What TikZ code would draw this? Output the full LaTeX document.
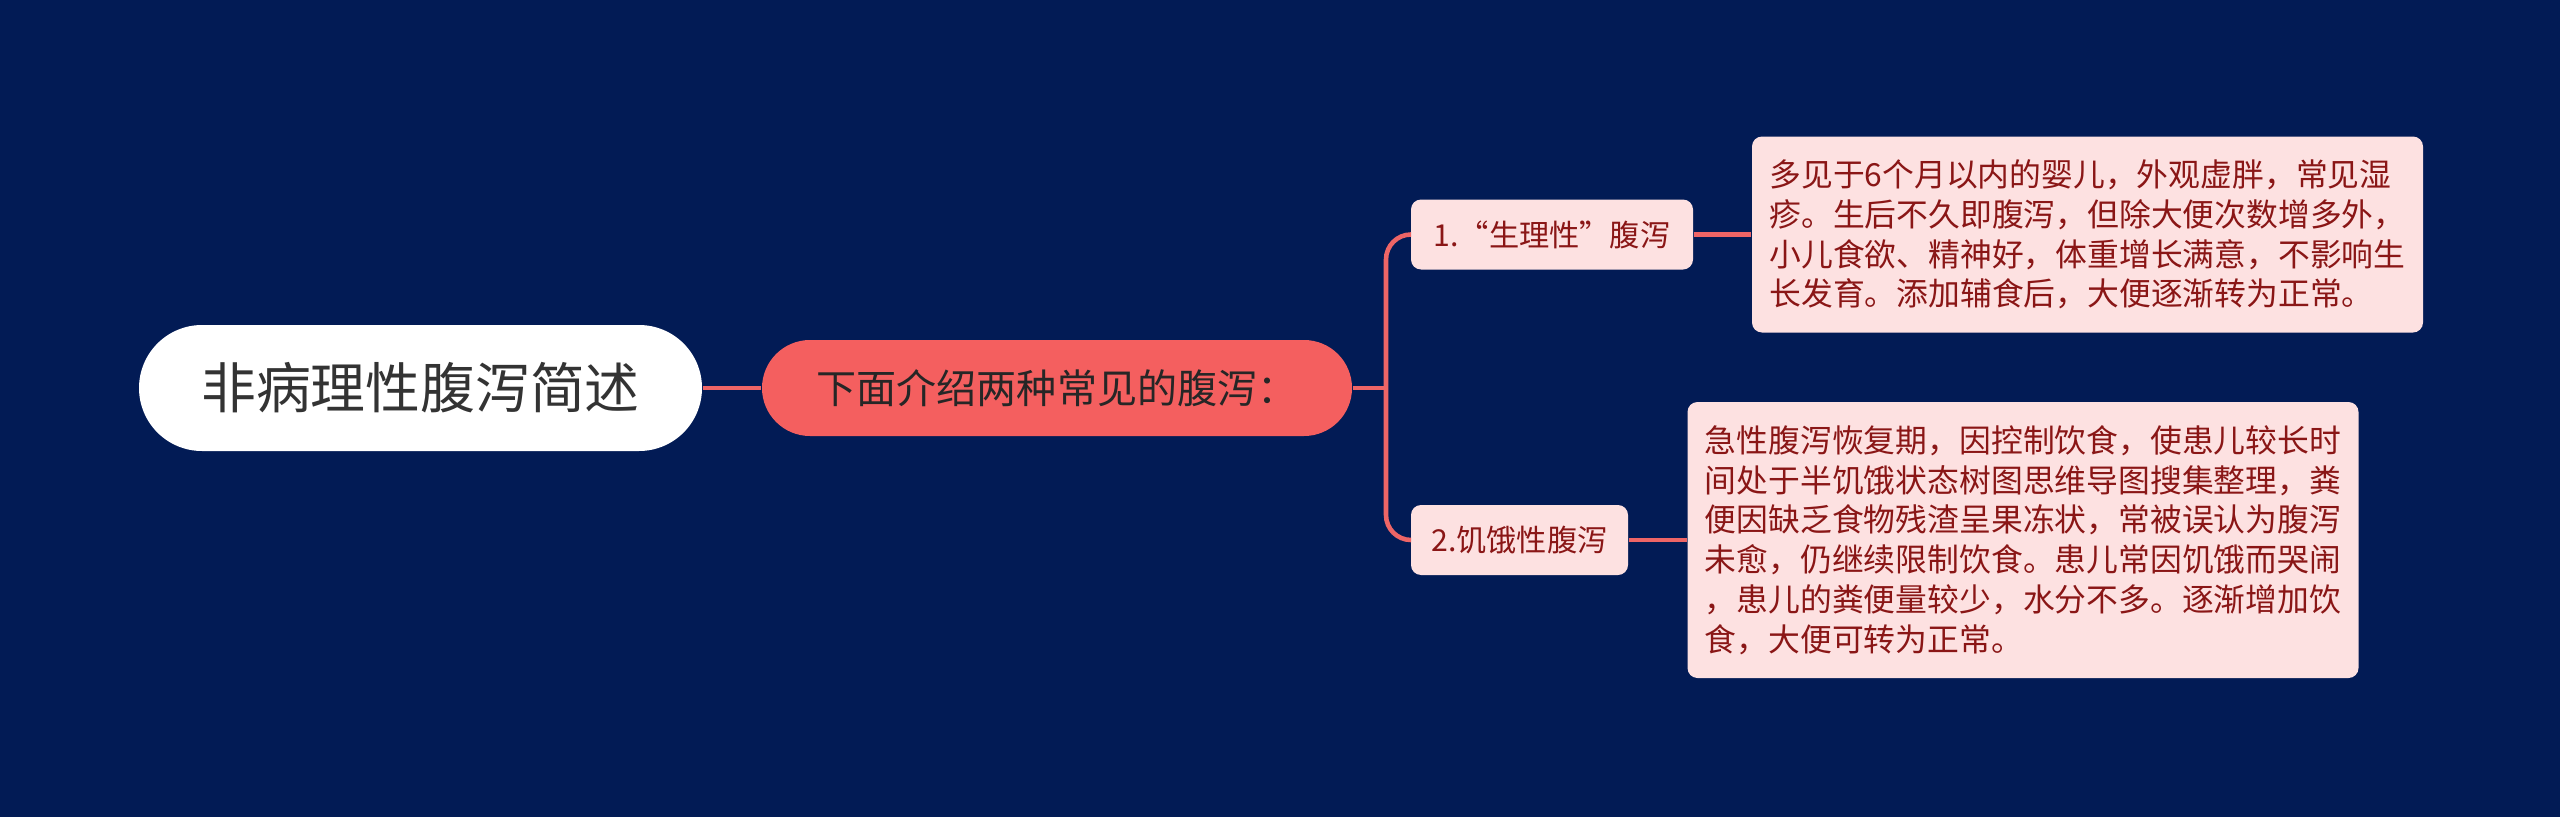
\documentclass[tikz,border=0pt]{standalone}
\usepackage{fontspec}
\setmainfont{Noto Sans CJK SC}
\usepackage{tikz}

\definecolor{navybg}{HTML}{021B55}
\definecolor{linkred}{HTML}{EE6566}
\definecolor{introred}{HTML}{F45F5F}
\definecolor{notepink}{HTML}{FDE1E1}
\definecolor{notetext}{HTML}{8A1616}

\begin{document}
\begin{tikzpicture}
  % Define styles
  \tikzstyle{topic} = [rectangle, fill=white, text=black!80, rounded corners=0.63cm, minimum width=5.63cm, minimum height=1.26cm, inner sep=0pt, font=\fontsize{15.6}{18}\selectfont]
  \tikzstyle{intro} = [rectangle, fill=introred, text=black!85, rounded corners=0.48cm, minimum width=5.9cm, minimum height=0.96cm, inner sep=0pt, font=\fontsize{11.4}{13}\selectfont]
  \tikzstyle{branch} = [rectangle, fill=notepink, text=notetext, rounded corners=0.1cm, minimum height=0.7cm, inner xsep=0.17cm, inner ysep=0pt, font=\fontsize{8.6}{10}\selectfont]
  \tikzstyle{note} = [rectangle, fill=notepink, text=notetext, rounded corners=0.1cm, minimum width=6.71cm, align=left, inner xsep=0.16cm, inner ysep=0pt, font=\fontsize{9.05}{11.3}\selectfont]
  \tikzstyle{link} = [draw=linkred, line width=1.3pt]

  % Background
  \fill[navybg] (0,0) rectangle (25.6,-8.17);
  \useasboundingbox (0,0) rectangle (25.6,-8.17);

  % Main topic
  \node[topic] (root) at (4.205,-3.88) {非病理性腹泻简述};

  % Intro
  \node[intro] (intro) at (10.57,-3.88) {下面介绍两种常见的腹泻：};

  % Two kinds
  \node[branch, minimum width=2.82cm] (phys) at (15.52,-2.345) {1.“生理性”腹泻};
  \node[branch, minimum width=2.17cm] (hunger) at (15.195,-5.40) {2.饥饿性腹泻};

  % Notes
  \node[note, minimum height=1.96cm] (physnote) at (20.875,-2.345) {多见于6个月以内的婴儿，外观虚胖，常见湿\\疹。生后不久即腹泻，但除大便次数增多外，\\小儿食欲、精神好，体重增长满意，不影响生\\长发育。添加辅食后，大便逐渐转为正常。};
  \node[note, minimum height=2.76cm] (hungernote) at (20.23,-5.40) {急性腹泻恢复期，因控制饮食，使患儿较长时\\间处于半饥饿状态树图思维导图搜集整理，粪\\便因缺乏食物残渣呈果冻状，常被误认为腹泻\\未愈，仍继续限制饮食。患儿常因饥饿而哭闹\\，患儿的粪便量较少，水分不多。逐渐增加饮\\食，大便可转为正常。};

  % Arrows
  \coordinate (fork) at (13.86,-3.88);
  \draw[link] (root) -- (intro);
  \draw[link] (intro.east) -- (fork);
  \draw[link, rounded corners=0.25cm] (phys.west) -| (fork) |- (hunger.west);
  \draw[link] (phys) -- (physnote);
  \draw[link] (hunger) -- (hungernote);
\end{tikzpicture}
\end{document}
